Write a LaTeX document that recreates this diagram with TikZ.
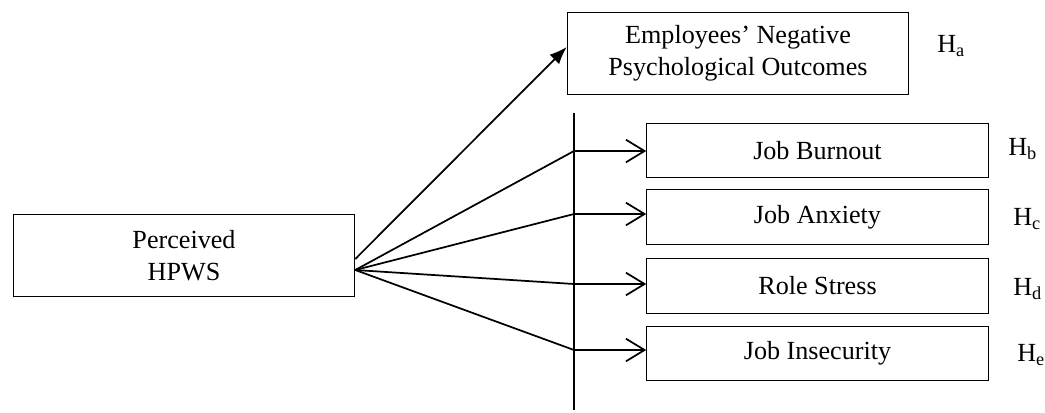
\documentclass[tikz,border=0pt]{standalone}
\usepackage{fontspec}
\setmainfont{Liberation Serif}
\usetikzlibrary{arrows.meta,calc}

\begin{document}
\begin{tikzpicture}[x=0.75pt,y=-0.75pt,
    box/.style={draw, line width=0.9pt, align=center, inner sep=0pt,
        minimum width=256pt, font=\fontsize{19.6}{24}\selectfont},
    hyp/.style={anchor=west, inner sep=0pt, font=\fontsize{19.6}{24}\selectfont},
    link/.style={line width=1.3pt},
    barb/.style={line width=1.3pt, -{Straight Barb[length=14pt,width=17pt,line width=1.3pt]}}]
\useasboundingbox (0,0) rectangle (1045,412);

% boxes
\node[box, minimum height=62pt] (hpws) at (184,255.5) {Perceived\\HPWS};
\node[box, minimum height=62pt] (npo) at (738,53.5) {Employees' Negative\\Psychological Outcomes};
\node[box, minimum height=41pt] (burnout) at (817.5,150.5) {Job Burnout};
\node[box, minimum height=41pt] (anxiety) at (817.5,217) {Job Anxiety};
\node[box, minimum height=41pt] (stress) at (817.5,286) {Role Stress};
\node[box, minimum height=41pt] (insecure) at (817.5,353.5) {Job Insecurity};

% hypothesis labels
\node[hyp] (ha) at (937,46) {H\textsubscript{a}};
\node[hyp] (hb) at (1008,149) {H\textsubscript{b}};
\node[hyp] (hc) at (1013,219) {H\textsubscript{c}};
\node[hyp] (hd) at (1013,289) {H\textsubscript{d}};
\node[hyp] (he) at (1017,355) {H\textsubscript{e}};

% vertical bar and points on it
\coordinate (bartop) at (574,113);
\coordinate (barbot) at (574,410);
\draw[link] (bartop) -- (barbot);
\coordinate (pb) at (574,151);
\coordinate (pc) at (574,214);
\coordinate (pd) at (574,284);
\coordinate (pe) at (574,350);

% arrows
\coordinate (hstart) at ($(hpws.east)+(0,3.5)$);
\coordinate (fan) at ($(hpws.east)+(0,14.5)$);
\draw[link, -{Latex[length=13pt,width=10pt]}] (hstart) -- ($(npo.west)+(0,-6.5)$);
\foreach \p/\b in {pb/burnout, pc/anxiety, pd/stress, pe/insecure} {
    \draw[link] (fan) -- (\p);
    \draw[barb] (\p) -- (\b.west |- \p);
}
\end{tikzpicture}
\end{document}
